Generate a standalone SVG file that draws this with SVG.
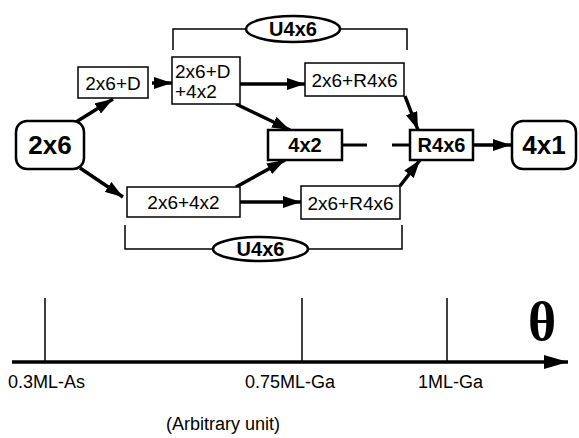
<svg xmlns="http://www.w3.org/2000/svg" width="579" height="438" viewBox="0 0 579 438">
<defs>
<marker id="ah" markerUnits="userSpaceOnUse" markerWidth="20" markerHeight="12" refX="18" refY="6" orient="auto">
<path d="M0,0 L18,6 L0,12 Z" fill="#000"/>
</marker>
<marker id="axh" markerUnits="userSpaceOnUse" markerWidth="26" markerHeight="14" refX="24" refY="7" orient="auto">
<path d="M0,0 L24,7 L0,14 Z" fill="#000"/>
</marker>
<style>
.box{fill:#fff;stroke:#000;stroke-width:1.5}
.bbox{fill:#fff;stroke:#000;stroke-width:2.5}
.rbox{fill:#fff;stroke:#000;stroke-width:2.5}
.t{font-family:"Liberation Sans",Arial,sans-serif;font-size:19px;text-anchor:middle;fill:#000}
.tb{font-family:"Liberation Sans",Arial,sans-serif;font-size:20px;font-weight:bold;text-anchor:middle;fill:#000}
.tl{font-family:"Liberation Sans",Arial,sans-serif;font-size:26px;font-weight:bold;text-anchor:middle;fill:#000}
.ax{font-family:"Liberation Sans",Arial,sans-serif;font-size:18px;fill:#000}
.arr{stroke:#000;stroke-width:3.5;fill:none;marker-end:url(#ah)}
.br{stroke:#000;stroke-width:1.5;fill:none}
</style>
</defs>
<g id="connectors">
<line class="arr" x1="76" y1="122" x2="113" y2="99"/>
<line class="arr" x1="80" y1="168" x2="123" y2="197"/>
<line class="arr" x1="152" y1="83" x2="172" y2="83"/>
<line class="arr" x1="240" y1="84" x2="305" y2="84"/>
<line class="arr" x1="236" y1="104" x2="290" y2="130"/>
<line class="arr" x1="236" y1="187" x2="285" y2="160"/>
<line class="arr" x1="240" y1="202" x2="301" y2="202"/>
<line class="arr" x1="405" y1="96" x2="418" y2="130"/>
<line class="arr" x1="400" y1="186" x2="420" y2="160"/>
<line class="arr" x1="473" y1="145" x2="511" y2="145"/>
<line stroke="#000" stroke-width="3" x1="342" y1="145" x2="367" y2="145"/>
<line stroke="#000" stroke-width="3" x1="392" y1="145" x2="410" y2="145"/>
<path class="br" d="M173,50 V29 H246 M341,29 H407 V50"/>
<path class="br" d="M125,225 V249 H213 M308,249 H402 V225"/>
</g>
<g id="n2x6"><rect class="rbox" x="16" y="121" width="68" height="48" rx="11"/><text class="tl" x="50" y="154">2x6</text></g>
<g id="n2x6D"><rect class="box" x="78" y="67" width="70" height="31"/><text class="t" x="113" y="89.5">2x6+D</text></g>
<g id="n2x6D4x2"><rect class="box" x="172" y="57" width="68" height="47"/><text class="t" x="175" y="78" style="text-anchor:start">2x6+D</text><text class="t" x="175" y="98" style="text-anchor:start">+4x2</text></g>
<g id="nU4x6top"><ellipse fill="#fff" stroke="#000" stroke-width="2.5" cx="293" cy="29" rx="47" ry="13"/><text class="tb" x="293" y="36">U4x6</text></g>
<g id="n2x6R4x6top"><rect class="box" x="305" y="63" width="99" height="33"/><text class="t" x="354.5" y="86.5">2x6+R4x6</text></g>
<g id="n4x2"><rect class="bbox" x="268" y="130" width="74" height="30"/><text class="tb" x="305" y="152">4x2</text></g>
<g id="nR4x6"><rect class="bbox" x="410" y="130" width="63" height="30"/><text class="tb" x="441.5" y="152">R4x6</text></g>
<g id="n4x1"><rect class="rbox" x="512" y="121" width="64" height="48" rx="11"/><text class="tl" x="544" y="154">4x1</text></g>
<g id="n2x64x2"><rect class="box" x="127" y="187" width="113" height="30"/><text class="t" x="183.5" y="209">2x6+4x2</text></g>
<g id="n2x6R4x6bot"><rect class="box" x="301" y="186" width="99" height="33"/><text class="t" x="350.5" y="209.5">2x6+R4x6</text></g>
<g id="nU4x6bot"><ellipse fill="#fff" stroke="#000" stroke-width="2.5" cx="260.5" cy="249" rx="47.5" ry="12"/><text class="tb" x="260.5" y="256">U4x6</text></g>
<g id="axis">
<line stroke="#000" stroke-width="3.5" x1="12" y1="362" x2="568" y2="362" marker-end="url(#axh)"/>
<line stroke="#000" stroke-width="1.5" x1="45" y1="298" x2="45" y2="362"/>
<line stroke="#000" stroke-width="1.5" x1="302" y1="298" x2="302" y2="362"/>
<line stroke="#000" stroke-width="1.5" x1="447" y1="298" x2="447" y2="362"/>
<text x="542" y="340" style="font-family:'Liberation Serif','Times New Roman',serif;font-size:54px;font-weight:bold;text-anchor:middle">θ</text>
<text class="ax" x="8" y="388">0.3ML-As</text>
<text class="ax" x="245" y="388">0.75ML-Ga</text>
<text class="ax" x="418" y="388">1ML-Ga</text>
<text class="ax" x="166" y="430">(Arbitrary unit)</text>
</g>
</svg>
